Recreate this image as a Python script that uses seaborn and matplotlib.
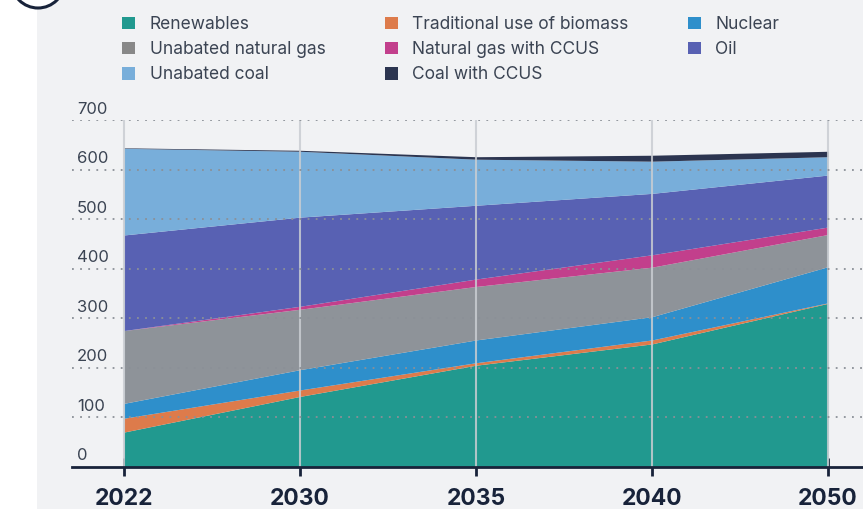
"""
Electricity generation mix by source, 2022-2050 (stacked area)
"""

import numpy as np
import matplotlib
matplotlib.use('Agg')
import matplotlib.pyplot as plt
from matplotlib.patches import Patch, Rectangle, Circle
import seaborn as sns

# values
years = ['2022', '2030', '2035', '2040', '2050']
renewables = [70, 142, 205, 248, 330]
biomass = [28, 13, 5, 8, 1]
nuclear = [30, 41, 46, 47, 73]
gas = [147, 122, 108, 100, 65]
gas_ccus = [0, 6, 15, 25, 15]
oil = [193, 180, 149, 124, 105]
coal = [175, 133, 93, 65, 37]
coal_ccus = [1, 2, 5, 12, 11]

labels = ['Renewables', 'Traditional use of biomass', 'Nuclear',
          'Unabated natural gas', 'Natural gas with CCUS', 'Oil',
          'Unabated coal', 'Coal with CCUS']
colors = ['#21998F', '#DD7B4B', '#2E8FCB', '#8E9399',
          '#C23F8C', '#5861B3', '#78AEDA', '#2C3550']
legend_colors = ['#21998F', '#DD7B4B', '#2E8FCB', '#888888',
                 '#C23F8C', '#5861B3', '#78AEDA', '#2C3550']

sns.set_theme(style='white')
plt.rcParams['font.family'] = ['Inter', 'DejaVu Sans']

TXT = '#3b4453'
DARK = '#18233a'

fig = plt.figure(figsize=(8.63, 5.09), dpi=100)
fig.patch.set_facecolor('white')
fig.add_artist(Rectangle((37 / 863, 0), 1, 1, transform=fig.transFigure,
                         facecolor='#F1F2F4', edgecolor='none', zorder=-10))
fig.add_artist(Circle((0.38, 5.276), 0.266, transform=fig.dpi_scale_trans,
                      facecolor='white', edgecolor=DARK, lw=2.2, zorder=-5))

ax = fig.add_axes([72 / 863, 0.0831, 1 - 72 / 863, 0.681])
ax.set_facecolor('none')

x = np.arange(len(years))
series = [renewables, biomass, nuclear, gas, gas_ccus, oil, coal, coal_ccus]
ax.stackplot(x, *series, colors=colors, linewidth=0, zorder=2)

ax.set_xlim(-(124 - 72) / 176, 4 + (863 - 828) / 176)
ax.set_ylim(0, 700)

# dotted horizontal grid over the areas, light vertical lines at each year
for v in range(100, 800, 100):
    ax.axhline(v, color='#8b9097', ls=(0, (1, 3.5)), lw=1.3, zorder=3)
ax.vlines(x, 0, 700, color='#c9cdd2', lw=1.5, alpha=0.85, zorder=2.5)

for s in ['top', 'right', 'left']:
    ax.spines[s].set_visible(False)
ax.spines['bottom'].set_color(DARK)
ax.spines['bottom'].set_linewidth(2)
ax.spines['bottom'].set_zorder(4)

ax.set_xticks(x, years)
ax.tick_params(axis='x', bottom=True, direction='inout', length=13, width=2,
               color=DARK, labelsize=16.5, labelcolor=DARK, pad=9)
for t in ax.get_xticklabels():
    t.set_fontweight('bold')
ax.set_yticks([])

xlab = -(124 - 77) / 176
for v in range(0, 800, 100):
    ax.annotate(str(v), xy=(xlab, v), xytext=(0, 4.5), textcoords='offset points',
                ha='left', va='baseline', fontsize=12, color=TXT)

handles = [Patch(facecolor=c, edgecolor='none') for c in legend_colors]
order = [0, 3, 6, 1, 4, 7, 2, 5]
fig.legend([handles[i] for i in order], [labels[i] for i in order],
           loc='upper left', bbox_to_anchor=(122 / 863, 1 - 16 / 509),
           ncol=3, frameon=False, fontsize=12.5, labelcolor=TXT,
           handlelength=0.75, handleheight=0.75, handletextpad=0.85,
           columnspacing=3.4, labelspacing=0.47, borderpad=0, borderaxespad=0)

fig.savefig('out.png', dpi=100, facecolor=fig.get_facecolor())
